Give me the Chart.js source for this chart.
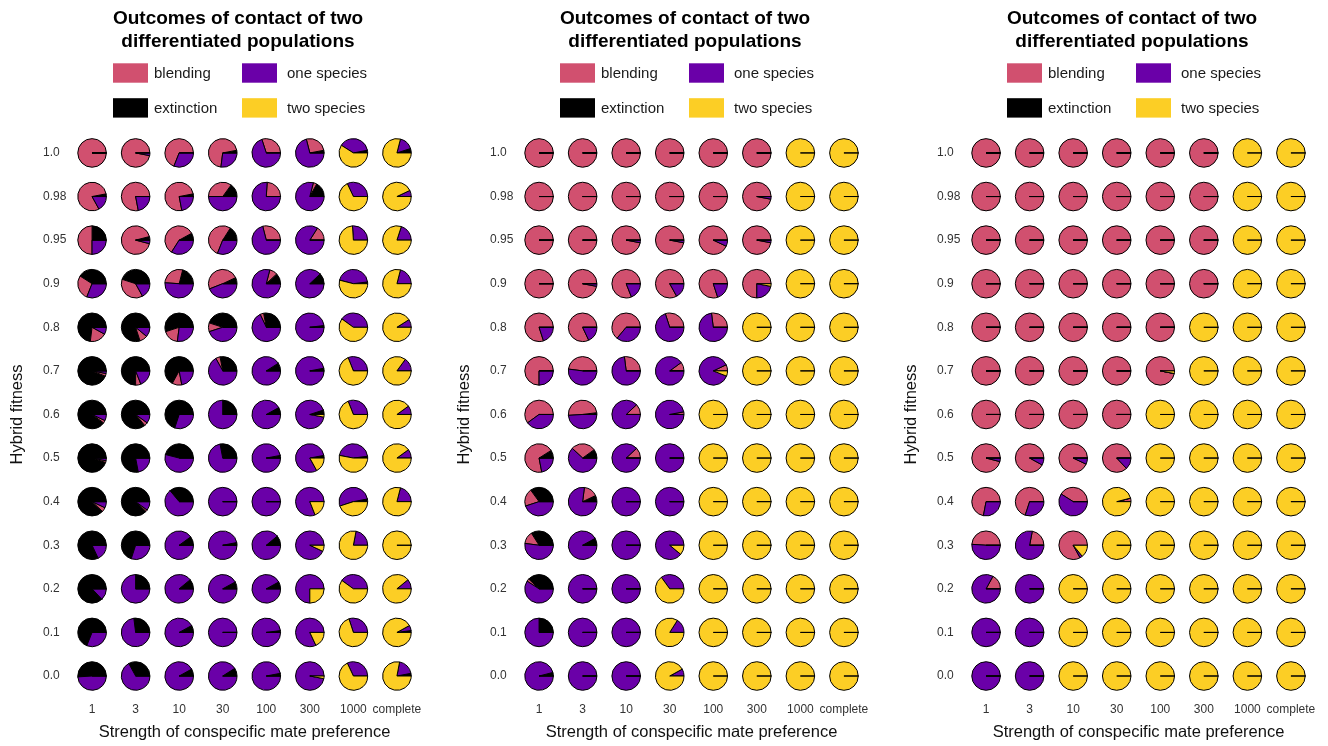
<!DOCTYPE html>
<html>
<head>
<meta charset="utf-8">
<script src="https://cdn.jsdelivr.net/npm/chart.js@4.4.0/dist/chart.umd.min.js"></script>
<style>
  html, body { margin: 0; padding: 0; background: #fff; overflow: hidden; }
  #wrap { position: relative; width: 1328px; height: 746px; overflow: hidden; }
  .panel { position: absolute; top: 0; }
</style>
</head>
<body>
<div id="wrap">
  <canvas class="panel" id="p1" width="476" height="746" style="left:0px"></canvas>
  <canvas class="panel" id="p2" width="476" height="746" style="left:447px"></canvas>
  <canvas class="panel" id="p3" width="476" height="746" style="left:894px"></canvas>
</div>
<script>
// categories / labels
const strengths = ['1', '3', '10', '30', '100', '300', '1000', 'complete'];
const fitness = ['1.0', '0.98', '0.95', '0.9', '0.8', '0.7', '0.6', '0.5', '0.4', '0.3', '0.2', '0.1', '0.0'];
const outcomes = ['blending', 'one species', 'extinction', 'two species'];
const outcomeColors = ['#D1506F', '#6A00A8', '#000000', '#FCCE25'];

// panel 1  (rows = fitness, cols = strengths, values in %)
const P1_BLEND = [
  [100,97,69,70,30,26,0,0],
  [80,78,75,35,24,4,0,0],
  [50,92,58,53,29,16,0,0],
  [28,38,28,49,9,0,0,0],
  [19,9,18,10,4,0,0,0],
  [3,6,11,5,0,0,0,0],
  [3,4,0,0,0,0,0,0],
  [2,0,0,0,0,0,0,0],
  [5,2,0,0,0,0,0,0],
  [0,0,0,0,0,0,0,0],
  [0,0,0,0,0,0,0,0],
  [0,0,0,0,0,0,0,0],
  [0,0,0,0,0,0,0,0]
];
const P1_ONE = [
  [0,3,31,27,70,71,38,16],
  [17,22,22,50,76,79,32,7],
  [25,4,34,31,71,84,26,20],
  [31,17,51,44,79,88,44,21],
  [8,11,27,45,68,98,40,9],
  [3,19,22,67,91,97,31,15],
  [7,10,30,75,92,92,31,10],
  [3,22,54,72,97,80,45,10],
  [7,10,64,100,100,81,52,21],
  [18,30,90,97,89,93,22,0],
  [13,75,89,92,92,75,40,11],
  [31,73,92,100,98,82,30,6],
  [49,67,92,91,97,97,32,19]
];
const P1_EXT = [
  [0,0,0,3,0,3,3,5],
  [3,0,3,15,0,17,0,0],
  [25,4,8,16,0,0,0,0],
  [41,45,21,7,12,12,2,0],
  [73,80,55,45,28,2,0,0],
  [94,75,67,28,9,3,0,0],
  [90,86,70,25,8,5,0,0],
  [95,78,46,28,3,3,2,0],
  [88,88,36,0,0,0,3,0],
  [82,70,10,3,11,0,0,0],
  [87,25,11,8,8,0,0,0],
  [69,27,8,0,2,0,0,2],
  [51,33,8,9,3,0,0,3]
];
const P1_TWO = [
  [0,0,0,0,0,0,59,79],
  [0,0,0,0,0,0,68,93],
  [0,0,0,0,0,0,74,80],
  [0,0,0,0,0,0,54,79],
  [0,0,0,0,0,0,60,91],
  [0,0,0,0,0,0,69,85],
  [0,0,0,0,0,3,69,90],
  [0,0,0,0,0,17,53,90],
  [0,0,0,0,0,19,45,79],
  [0,0,0,0,0,7,78,100],
  [0,0,0,0,0,25,60,89],
  [0,0,0,0,0,18,70,92],
  [0,0,0,0,0,3,68,78]
];

// panel 2
const P2_BLEND = [
  [100,100,100,100,100,100,0,0],
  [100,100,100,100,100,97,0,0],
  [100,100,97,97,93,97,0,0],
  [100,97,81,83,80,75,0,0],
  [80,82,64,30,27,0,0,0],
  [75,48,27,10,7,0,0,0],
  [60,49,12,3,0,0,0,0],
  [69,28,12,0,0,0,0,0],
  [20,16,0,0,0,0,0,0],
  [14,0,0,0,0,0,0,0],
  [3,0,0,0,0,0,0,0],
  [0,0,0,0,0,0,0,0],
  [0,0,0,0,0,0,0,0]
];
const P2_ONE = [
  [0,0,0,0,0,0,0,0],
  [0,0,0,0,0,3,0,0],
  [0,0,3,3,7,3,0,0],
  [0,3,19,17,20,22,0,0],
  [20,18,36,70,73,0,0,0],
  [25,52,73,90,87,0,0,0],
  [40,49,88,97,0,0,0,0],
  [22,62,88,100,0,0,0,0],
  [45,77,100,100,0,0,0,0],
  [52,92,100,89,0,0,0,0],
  [59,100,100,35,0,0,0,0],
  [75,100,100,16,0,0,0,0],
  [96,100,100,8,0,0,0,0]
];
const P2_EXT = [
  [0,0,0,0,0,0,0,0],
  [0,0,0,0,0,0,0,0],
  [0,0,0,0,0,0,0,0],
  [0,0,0,0,0,0,0,0],
  [0,0,0,0,0,0,0,0],
  [0,0,0,0,0,0,0,0],
  [0,2,0,0,0,0,0,0],
  [9,10,0,0,0,0,0,0],
  [35,7,0,0,0,0,0,0],
  [34,8,0,0,0,0,0,0],
  [38,0,0,0,0,0,0,0],
  [25,0,0,0,0,0,0,0],
  [4,0,0,0,0,0,0,0]
];
const P2_TWO = [
  [0,0,0,0,0,0,100,100],
  [0,0,0,0,0,0,100,100],
  [0,0,0,0,0,0,100,100],
  [0,0,0,0,0,3,100,100],
  [0,0,0,0,0,100,100,100],
  [0,0,0,0,6,100,100,100],
  [0,0,0,0,100,100,100,100],
  [0,0,0,0,100,100,100,100],
  [0,0,0,0,100,100,100,100],
  [0,0,0,11,100,100,100,100],
  [0,0,0,65,100,100,100,100],
  [0,0,0,84,100,100,100,100],
  [0,0,0,92,100,100,100,100]
];

// panel 3
const P3_BLEND = [
  [100,100,100,100,100,100,0,0],
  [100,100,100,100,100,100,0,0],
  [100,100,100,100,100,100,0,0],
  [100,100,100,100,100,100,0,0],
  [100,100,100,100,100,0,0,0],
  [100,100,100,100,97,0,0,0],
  [100,100,100,100,0,0,0,0],
  [96,92,93,87,0,0,0,0],
  [72,70,41,4,0,0,0,0],
  [49,22,83,0,0,0,0,0],
  [17,0,0,0,0,0,0,0],
  [0,0,0,0,0,0,0,0],
  [0,0,0,0,0,0,0,0]
];
const P3_ONE = [
  [0,0,0,0,0,0,0,0],
  [0,0,0,0,0,0,0,0],
  [0,0,0,0,0,0,0,0],
  [0,0,0,0,0,0,0,0],
  [0,0,0,0,0,0,0,0],
  [0,0,0,0,0,0,0,0],
  [0,0,0,0,0,0,0,0],
  [4,8,7,13,0,0,0,0],
  [28,30,59,0,0,0,0,0],
  [51,78,3,0,0,0,0,0],
  [83,100,0,0,0,0,0,0],
  [100,100,0,0,0,0,0,0],
  [100,100,0,0,0,0,0,0]
];
const P3_EXT = [
  [0,0,0,0,0,0,0,0],
  [0,0,0,0,0,0,0,0],
  [0,0,0,0,0,0,0,0],
  [0,0,0,0,0,0,0,0],
  [0,0,0,0,0,0,0,0],
  [0,0,0,0,0,0,0,0],
  [0,0,0,0,0,0,0,0],
  [0,0,0,0,0,0,0,0],
  [0,0,0,0,0,0,0,0],
  [0,0,0,0,0,0,0,0],
  [0,0,0,0,0,0,0,0],
  [0,0,0,0,0,0,0,0],
  [0,0,0,0,0,0,0,0]
];
const P3_TWO = [
  [0,0,0,0,0,0,100,100],
  [0,0,0,0,0,0,100,100],
  [0,0,0,0,0,0,100,100],
  [0,0,0,0,0,0,100,100],
  [0,0,0,0,0,100,100,100],
  [0,0,0,0,3,100,100,100],
  [0,0,0,0,100,100,100,100],
  [0,0,0,0,100,100,100,100],
  [0,0,0,96,100,100,100,100],
  [0,0,14,100,100,100,100,100],
  [0,0,100,100,100,100,100,100],
  [0,0,100,100,100,100,100,100],
  [0,0,100,100,100,100,100,100]
];

const titleLines = ['Outcomes of contact of two', 'differentiated populations'];

Chart.defaults.font.family = '"Liberation Sans", Arial, Helvetica, sans-serif';

const PIE_R = 14.3;

// pies drawn at the scatter point positions, slices counter-clockwise from 3 o'clock
// (extinction, blending, one species, two species) like base R pie()
const piePlugin = {
  id: 'pieGrid',
  afterDatasetsDraw(chart, args, opts) {
    const ctx = chart.ctx;
    const meta = chart.getDatasetMeta(0);
    const pts = chart.data.datasets[0].data;
    const series = [opts.ext, opts.blend, opts.one, opts.two];
    const cols = [outcomeColors[2], outcomeColors[0], outcomeColors[1], outcomeColors[3]];
    ctx.save();
    ctx.lineWidth = 1;
    ctx.strokeStyle = '#000';
    meta.data.forEach((el, i) => {
      const d = pts[i];
      const vals = series.map(s => s[d.y][d.x]);
      const total = vals.reduce((a, b) => a + b, 0);
      let a0 = 0;
      vals.forEach((v, k) => {
        const a1 = a0 + v / total * Math.PI * 2;
        ctx.beginPath();
        ctx.moveTo(el.x, el.y);
        if (v > 0) {
          ctx.arc(el.x, el.y, PIE_R, -a0, -a1, true);
        } else {
          ctx.lineTo(el.x + PIE_R * Math.cos(a0), el.y - PIE_R * Math.sin(a0));
        }
        ctx.closePath();
        if (v > 0) {
          ctx.fillStyle = cols[k];
          ctx.fill();
        }
        ctx.stroke();
        a0 = a1;
      });
    });
    ctx.restore();
  }
};

// 2 x 2 legend under the title
const legendPlugin = {
  id: 'gridLegend',
  afterDraw(chart) {
    const ctx = chart.ctx;
    const cx = chart.width / 2;
    const boxX = [cx - 125, cx + 4];
    const textX = [cx - 84, cx + 49];
    const rowY = [63.3, 98.2];
    ctx.save();
    ctx.font = '15px "Liberation Sans", Arial, sans-serif';
    ctx.textBaseline = 'middle';
    ctx.textAlign = 'left';
    outcomes.forEach((name, i) => {
      const col = i % 2, row = Math.floor(i / 2);
      ctx.fillStyle = outcomeColors[i];
      ctx.fillRect(boxX[col], rowY[row], 35, 19.4);
      ctx.fillStyle = '#1a1a1a';
      ctx.fillText(name, textX[col], rowY[row] + 10.5);
    });
    ctx.restore();
  }
};

function makePanel(id, blend, one, ext, two) {
  const points = [];
  fitness.forEach((f, r) => {
    strengths.forEach((s, c) => points.push({ x: c, y: r }));
  });
  return new Chart(document.getElementById(id), {
    type: 'scatter',
    data: { datasets: [{ data: points, pointRadius: 0, pointHoverRadius: 0 }] },
    options: {
      responsive: false,
      animation: false,
      devicePixelRatio: 1,
      events: [],
      layout: { padding: 0 },
      plugins: {
        legend: { display: false },
        tooltip: { enabled: false },
        title: {
          display: true,
          text: titleLines,
          color: '#000',
          font: { size: 19, weight: 'bold', lineHeight: 1.23 },
          padding: { top: 6.6, bottom: 77.8 }
        },
        pieGrid: { blend: blend, one: one, ext: ext, two: two }
      },
      scales: {
        x: {
          type: 'linear',
          position: 'bottom',
          min: -0.5,
          max: 7.5,
          afterBuildTicks: s => { s.ticks = strengths.map((_, i) => ({ value: i })); },
          afterFit: s => { s.height = 48.2; },
          grid: { display: false, drawTicks: false },
          border: { display: false },
          ticks: {
            padding: 5, maxRotation: 0, autoSkip: false,
            color: '#333', font: { size: 12 },
            callback: v => strengths[v]
          },
          title: {
            display: true,
            text: 'Strength of conspecific mate preference',
            color: '#111',
            font: { size: 16.5 },
            padding: { top: 0, bottom: 3.6 }
          }
        },
        y: {
          type: 'linear',
          position: 'left',
          weight: 0,
          reverse: true,
          min: -0.5,
          max: 12.5,
          afterBuildTicks: s => { s.ticks = fitness.map((_, i) => ({ value: i })); },
          afterFit: s => { s.width = 27.3; },
          grid: { display: false, drawTicks: false },
          border: { display: false },
          ticks: {
            crossAlign: 'far', padding: 0,
            color: '#333', font: { size: 12 },
            callback: v => fitness[v]
          }
        },
        y2: {
          type: 'linear',
          position: 'left',
          weight: 1,
          afterFit: s => { s.width = 43; },
          grid: { display: false, drawTicks: false },
          border: { display: false },
          ticks: { display: false },
          title: {
            display: true,
            text: 'Hybrid fitness',
            color: '#111',
            font: { size: 16.5 },
            padding: { top: 7.6, bottom: 0 }
          }
        },
        yr: {
          type: 'linear',
          position: 'right',
          afterFit: s => { s.width = 57.3; },
          grid: { display: false, drawTicks: false },
          border: { display: false },
          ticks: { display: false }
        }
      }
    },
    plugins: [piePlugin, legendPlugin]
  });
}

makePanel('p1', P1_BLEND, P1_ONE, P1_EXT, P1_TWO);
makePanel('p2', P2_BLEND, P2_ONE, P2_EXT, P2_TWO);
makePanel('p3', P3_BLEND, P3_ONE, P3_EXT, P3_TWO);
</script>
</body>
</html>
